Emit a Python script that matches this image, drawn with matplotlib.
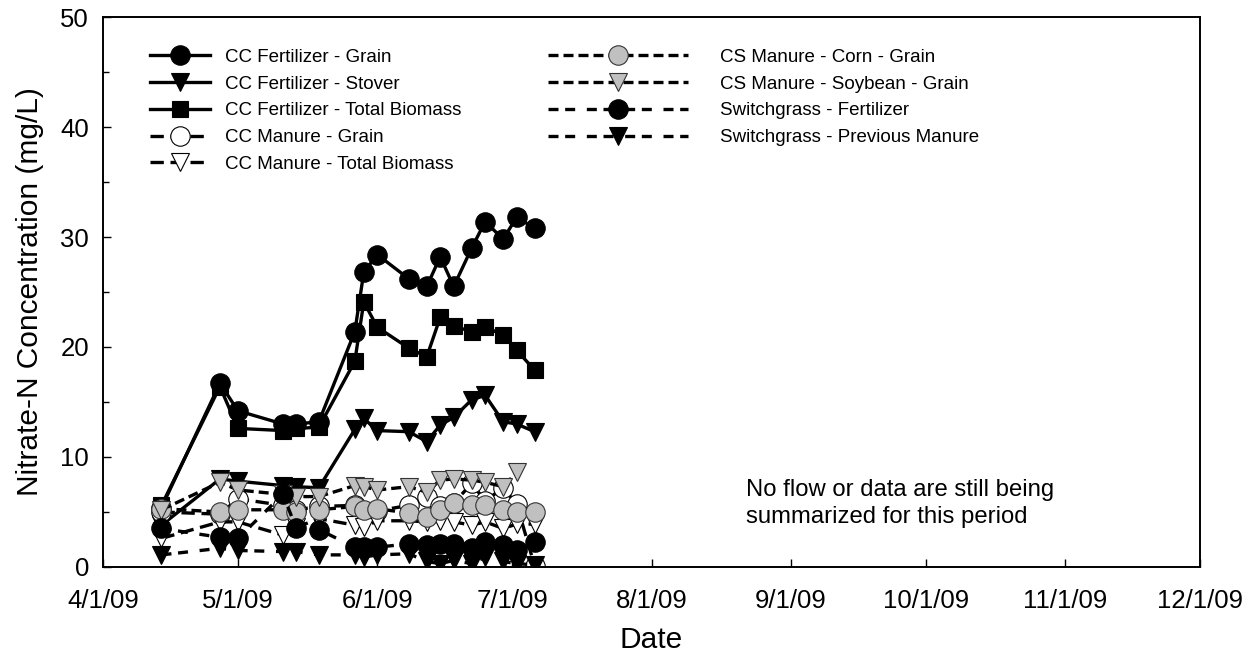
import numpy as np
import pandas as pd
import matplotlib
matplotlib.use('Agg')
from matplotlib import pyplot as plt

plt.rcParams['font.family'] = ['Liberation Sans', 'DejaVu Sans']

# sampling dates (2009 season)
dates = ['2009-04-14', '2009-04-27', '2009-05-01', '2009-05-11', '2009-05-14', '2009-05-19',
         '2009-05-27', '2009-05-29', '2009-06-01', '2009-06-08', '2009-06-12', '2009-06-15',
         '2009-06-18', '2009-06-22', '2009-06-25', '2009-06-29', '2009-07-02', '2009-07-06']

# nitrate-N, mg/L
cc_fert_grain = [5.4, 16.7, 14.2, 13.0, 13.0, 13.2, 21.4, 26.8, 28.4, 26.2, 25.5, 28.2,
                 25.5, 29.0, 31.4, 29.8, 31.8, 30.8]
cc_fert_stover = [3.8, 8.0, 7.8, 7.4, 7.3, 7.2, 12.5, 13.5, 12.4, 12.3, 11.4, 12.9,
                  13.6, 15.2, 15.6, 13.2, 13.0, 12.3]
cc_fert_total = [5.6, 16.4, 12.6, 12.4, 12.6, 12.7, 18.7, 24.1, 21.8, 19.9, 19.1, 22.7,
                 21.9, 21.4, 21.8, 21.1, 19.7, 17.9]
cc_man_grain = [5.0, 4.8, 6.2, 5.6, 5.2, 5.5, 5.6, 5.0, 5.1, 5.6, 6.4, 5.5,
                5.8, 7.6, 6.0, 7.2, 5.7, 0.1]
cc_man_total = [2.6, 4.1, 4.1, 2.9, 3.6, 4.4, 3.8, 3.6, 4.2, 4.2, 4.1, 4.2,
                4.1, 3.8, 4.1, 3.5, 3.9, 3.9]
cs_corn = [5.3, 5.0, 5.2, 5.2, 5.0, 5.2, 5.5, 5.2, 5.3, 4.9, 4.5, 5.2,
           5.8, 5.6, 5.6, 5.2, 5.0, 5.0]
# no soybean sample on the last date
cs_soy = [5.2, 7.7, 7.0, 6.6, 6.4, 6.4, 7.4, 7.3, 7.0, 7.3, 6.8, 7.9,
          8.0, 7.9, 7.7, 7.3, 8.6]
sg_fert = [3.5, 2.7, 2.6, 6.6, 3.5, 3.4, 1.8, 1.8, 1.8, 2.1, 2.0, 2.1,
           2.1, 1.7, 2.3, 2.0, 1.5, 2.3]
sg_prev_manure = [1.1, 1.7, 1.5, 1.4, 1.4, 1.1, 1.1, 0.9, 1.1, 1.2, 0.5, 0.3,
                  0.6, 0.3, 0.9, 0.5, 0.3, 0.2]

month_ticks = ['2009-04-01', '2009-05-01', '2009-06-01', '2009-07-01', '2009-08-01',
               '2009-09-01', '2009-10-01', '2009-11-01', '2009-12-01']
month_labels = ['4/1/09', '5/1/09', '6/1/09', '7/1/09', '8/1/09',
                '9/1/09', '10/1/09', '11/1/09', '12/1/09']

d = pd.to_datetime(dates)
gray = '#c0c0c0'
lw = 2.4

fig = plt.figure(figsize=(12.49, 6.52), dpi=100)
ax = fig.add_axes([0.0825, 0.1304, 0.8783, 0.8435])

solid = dict(color='black', lw=lw, mec='black', mew=0.8)
dash_cc = dict(color='black', lw=lw, mec='black', mew=0.8, dashes=(4, 2))
dash_cs = dict(color='black', lw=lw, mec='#333333', mew=0.8, dashes=(3, 1.5))
dash_sg = dict(color='black', lw=lw, mec='black', mew=0.8, dashes=(3, 2, 3, 3.5))

h1 = ax.plot(d, cc_fert_grain, marker='o', ms=14, mfc='black', label='CC Fertilizer - Grain', **solid)[0]
h2 = ax.plot(d, cc_fert_stover, marker='v', ms=13, mfc='black', label='CC Fertilizer - Stover', **solid)[0]
h3 = ax.plot(d, cc_fert_total, marker='s', ms=12, mfc='black', label='CC Fertilizer - Total Biomass', **solid)[0]
h4 = ax.plot(d, cc_man_grain, marker='o', ms=14, mfc='white', label='CC Manure - Grain', **dash_cc)[0]
h5 = ax.plot(d, cc_man_total, marker='v', ms=13, mfc='white', label='CC Manure - Total Biomass', **dash_cc)[0]
h6 = ax.plot(d, cs_corn, marker='o', ms=14, mfc=gray, label='CS Manure - Corn - Grain', **dash_cs)[0]
h7 = ax.plot(d[:len(cs_soy)], cs_soy, marker='v', ms=13, mfc=gray, label='CS Manure - Soybean - Grain', **dash_cs)[0]
h8 = ax.plot(d, sg_fert, marker='o', ms=14, mfc='black', label='Switchgrass - Fertilizer', **dash_sg)[0]
h9 = ax.plot(d, sg_prev_manure, marker='v', ms=13, mfc='black', label='Switchgrass - Previous Manure', **dash_sg)[0]

ax.set_xlim(pd.Timestamp('2009-04-01'), pd.Timestamp('2009-12-01'))
ax.set_ylim(0, 50)
ax.set_xticks(pd.to_datetime(month_ticks))
ax.set_xticklabels(month_labels)
ax.set_yticks(np.arange(0, 51, 10))
ax.set_yticks(np.arange(5, 50, 10), minor=True)
ax.tick_params(axis='both', which='both', direction='in', width=1.0, top=False, right=False)
ax.tick_params(axis='x', which='major', length=5.5, pad=15.5, labelsize=18.5)
ax.tick_params(axis='y', which='major', length=5.5, pad=10, labelsize=18.5)
ax.tick_params(axis='y', which='minor', length=4)
for s in ax.spines.values():
    s.set_linewidth(1.4)

ax.set_xlabel('Date', fontsize=21.5, labelpad=10)
ax.set_ylabel('Nitrate-N Concentration (mg/L)', fontsize=21.5, labelpad=12)

leg_kw = dict(loc='upper left', frameon=False, fontsize=13.5, numpoints=1,
              borderpad=0, borderaxespad=0, labelspacing=0.51)
leg1 = ax.legend(handles=[h1, h2, h3, h4, h5], bbox_to_anchor=(0.0428, 0.942),
                 handlelength=3.2, handletextpad=0.8, **leg_kw)
ax.add_artist(leg1)
ax.legend(handles=[h6, h7, h8, h9], bbox_to_anchor=(0.4057, 0.942),
          handlelength=7.47, handletextpad=1.7, **leg_kw)

ax.text(0.586, 0.1155, 'No flow or data are still being\nsummarized for this period',
        transform=ax.transAxes, fontsize=17.2, ha='left', va='center', linespacing=1.3)

plt.savefig('out.png', dpi=100)
